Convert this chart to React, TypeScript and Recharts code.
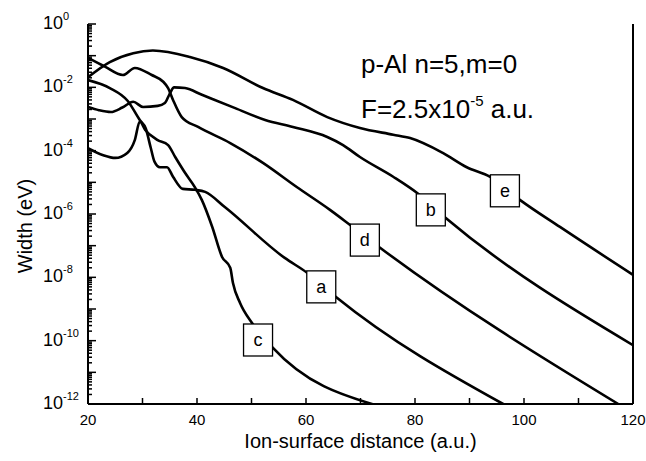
import React from 'react';
import { ComposedChart, Line, Scatter, XAxis, YAxis, ReferenceLine, Customized } from 'recharts';

// ---- data (x: ion-surface distance in a.u., y: width in eV) ----
const eX = [20, 24, 28.3, 31.9, 38.7, 44.8, 52.1, 57.6, 63.9, 69.9, 76, 79.1, 85.1, 89.5, 93.8, 99.3, 106.6, 120];
const eY = [2.1e-2, 6.3e-2, 1.2e-1, 1.45e-1, 9.1e-2, 4.1e-2, 9.5e-3, 4.0e-3, 1.15e-3, 5.2e-4, 3.2e-4, 2.5e-4, 8.5e-5, 3.0e-5, 1.5e-5, 2.75e-6, 3.9e-7, 1.2e-8];

const bX = [20, 22, 24.2, 26.3, 28.3, 30.1, 32.8, 34.1, 34.9, 35.8, 37.8, 40.9, 47, 52.5, 57.6, 63.9, 66.8, 69.9, 76, 80.4, 85.7, 120];
const bY = [2.4e-3, 1.9e-3, 1.66e-3, 2.3e-3, 3.5e-3, 2.4e-3, 2.6e-3, 3.2e-3, 5.8e-3, 1.0e-2, 9.5e-3, 5.8e-3, 2.2e-3, 9.3e-4, 5.6e-4, 2.7e-4, 1.5e-4, 6.3e-5, 1.5e-5, 4.6e-6, 7.4e-7, 7.2e-11];

const dX = [20, 23.1, 26.4, 28.6, 31.7, 33.8, 34.7, 35.6, 37.2, 40.2, 46.1, 52.1, 58.3, 64.4, 68.1, 73.4, 117.6];
const dY = [8.5e-2, 4.5e-2, 2.45e-2, 4.1e-2, 2.45e-2, 1.5e-2, 9.5e-3, 4.0e-3, 1.15e-3, 5.6e-4, 1.74e-4, 4.1e-5, 7.1e-6, 1.35e-6, 4.5e-7, 9.1e-8, 9.3e-13];

const aX = [20, 24, 27.3, 29.5, 30.6, 31.5, 32.2, 33.2, 34.5, 35.6, 37.4, 39.6, 41.5, 45.1, 56.1, 60.2, 65.5, 96.5];
const aY = [1.7e-2, 9.5e-3, 3.7e-3, 9.3e-4, 5.0e-4, 1.26e-4, 4.5e-5, 3.0e-5, 3.0e-5, 1.5e-5, 6.2e-6, 5.8e-6, 5.0e-6, 1.66e-6, 4.1e-8, 1.4e-8, 2.4e-9, 9.3e-13];

const cX = [20, 22.8, 25, 27.2, 28.6, 29.5, 30.5, 32.7, 34.7, 36, 37.8, 39.6, 40.9, 42.8, 44.6, 46.1, 46.6, 47.9, 50.1, 53.8, 72.7];
const cY = [1.2e-4, 7.2e-5, 5.9e-5, 8.5e-5, 2.2e-4, 8.3e-4, 4.5e-4, 2.2e-4, 1.5e-4, 6.3e-5, 2.0e-5, 7.1e-6, 2.75e-6, 3.9e-7, 4.4e-8, 2.0e-8, 6.6e-9, 1.55e-9, 3.6e-10, 6.3e-11, 9.3e-13];

const labelNames = ['a', 'b', 'c', 'd', 'e'];
const labelX = [62.8, 82.9, 51.2, 70.8, 96.5];
const labelY = [5.0e-9, 1.35e-6, 1.05e-10, 1.5e-7, 5.4e-6];

const xTicks = [20, 30, 40, 50, 60, 70, 80, 90, 100, 110, 120];
const decades = [-12, -11, -10, -9, -8, -7, -6, -5, -4, -3, -2, -1, 0];
const minorMult = [2, 3, 4, 5, 6, 7, 8, 9];

const yTicks: number[] = [];
decades.forEach((d) => {
  yTicks.push(Math.pow(10, d));
  if (d < 0) minorMult.forEach((m) => yTicks.push(m * Math.pow(10, d)));
});

const toRows = (xs: number[], ys: number[]) => xs.map((x, i) => ({ x, y: ys[i] }));
const series = [toRows(aX, aY), toRows(bX, bY), toRows(cX, cY), toRows(dX, dY), toRows(eX, eY)];
const labelRows = labelNames.map((name, i) => ({ x: labelX[i], y: labelY[i], name }));

const FONT = '"Liberation Sans", Arial, Helvetica, sans-serif';

const BottomTick = (props: any) => {
  const { x, y, payload } = props;
  const v = payload.value;
  return (
    <g>
      <line x1={x} y1={y} x2={x} y2={y - 6} stroke="#000" strokeWidth={1.5} />
      {v % 20 === 0 && (
        <text x={x} y={y + 21} textAnchor="middle" fontSize={15} fill="#000" fontFamily={FONT}>
          {v}
        </text>
      )}
    </g>
  );
};

const TopTick = (props: any) => {
  const { x, y } = props;
  return <line x1={x} y1={y} x2={x} y2={y + 6} stroke="#000" strokeWidth={1.5} />;
};

const LeftTick = (props: any) => {
  const { x, y, payload } = props;
  const v = payload.value;
  const exp = Math.floor(Math.log10(v) + 1e-9);
  const mant = v / Math.pow(10, exp);
  const major = Math.abs(mant - 1) < 1e-6;
  const len = major ? 8 : 4;
  return (
    <g>
      <line x1={x} y1={y} x2={x + len} y2={y} stroke="#000" strokeWidth={1.5} />
      {major && exp % 2 === 0 && (
        <text x={x - 45} y={y + 5} textAnchor="start" fontSize={18} fill="#000" fontFamily={FONT}>
          10
          <tspan dy={-9} fontSize={11}>
            {exp}
          </tspan>
        </text>
      )}
    </g>
  );
};

const LabelBox = (props: any) => {
  const { cx, cy, payload } = props;
  return (
    <g>
      <rect x={cx - 14.5} y={cy - 16} width={29} height={32} fill="#fff" stroke="#000" strokeWidth={1.3} />
      <text x={cx} y={cy + 6} textAnchor="middle" fontSize={18} fill="#000" fontFamily={FONT}>
        {payload.name}
      </text>
    </g>
  );
};

const Annotation = () => (
  <g fontFamily={FONT} fill="#000">
    <text x={361} y={73} fontSize={26}>
      p-Al n=5,m=0
    </text>
    <text x={361} y={118} fontSize={26}>
      F=2.5x10
      <tspan dy={-12} fontSize={15}>
        -5
      </tspan>
      <tspan dy={12}>{' a.u.'}</tspan>
    </text>
  </g>
);

const YTitle = () => (
  <text x={32} y={226} transform="rotate(-90 32 226)" textAnchor="middle" fontSize={20} fill="#000" fontFamily={FONT}>
    Width (eV)
  </text>
);

export default function App() {
  return (
    <div style={{ position: 'absolute', left: 0, top: 0, width: 646, height: 461, background: '#fff', fontFamily: FONT }}>
      <ComposedChart width={646} height={461} margin={{ top: 24, right: 13, left: 0, bottom: 0 }}>
        <XAxis
          dataKey="x"
          type="number"
          domain={[20, 120]}
          ticks={xTicks}
          interval={0}
          allowDataOverflow
          height={57}
          tickSize={0}
          tickMargin={0}
          tick={<BottomTick />}
          axisLine={{ stroke: '#000', strokeWidth: 2 }}
          tickLine={false}
          label={{ value: 'Ion-surface distance (a.u.)', position: 'insideBottom', offset: 13, fontSize: 20, fill: '#000', fontFamily: FONT }}
        />
        <XAxis
          xAxisId="top"
          orientation="top"
          dataKey="x"
          type="number"
          domain={[20, 120]}
          ticks={xTicks}
          interval={0}
          allowDataOverflow
          height={0}
          tickSize={0}
          tickMargin={0}
          tick={<TopTick />}
          axisLine={{ stroke: '#000', strokeWidth: 2 }}
          tickLine={false}
        />
        <YAxis
          type="number"
          scale="log"
          domain={[1e-12, 1]}
          ticks={yTicks}
          interval={0}
          allowDataOverflow
          width={88}
          tickSize={0}
          tickMargin={0}
          tick={<LeftTick />}
          axisLine={{ stroke: '#000', strokeWidth: 2 }}
          tickLine={false}
          label={() => <YTitle />}
        />
        <ReferenceLine x={120} stroke="#000" strokeWidth={2} />
        {series.map((rows, i) => (
          <Line
            key={i}
            data={rows}
            dataKey="y"
            type="monotone"
            stroke="#000"
            strokeWidth={2.6}
            dot={false}
            activeDot={false}
            isAnimationActive={false}
          />
        ))}
        <Scatter data={labelRows} dataKey="y" shape={<LabelBox />} isAnimationActive={false} />
        <Customized component={<Annotation />} />
      </ComposedChart>
    </div>
  );
}
